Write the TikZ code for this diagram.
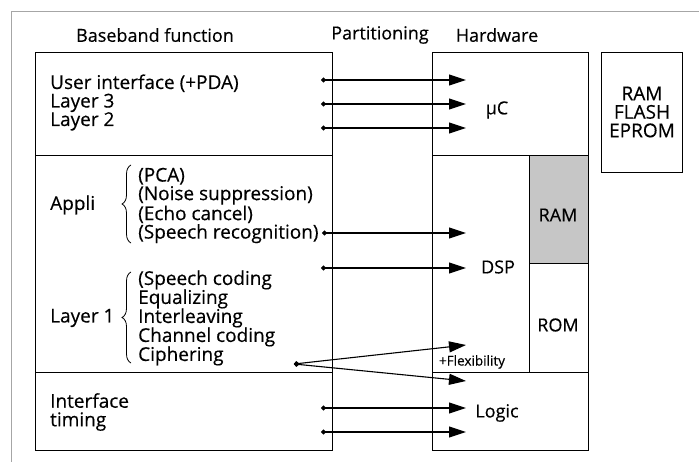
\documentclass[tikz,border=0pt]{standalone}
\usepackage{fontspec}
\setmainfont{Open Sans}[FakeBold=0.4]
\usetikzlibrary{arrows.meta,positioning,decorations.pathreplacing}

\begin{document}
\begin{tikzpicture}[
    x=1pt, y=-1pt,
    box/.style={rectangle, draw, line width=1.1pt, inner sep=0pt, anchor=north west},
    txt/.style={font=\fontsize{19}{18.5}\selectfont, inner sep=0pt, align=left},
    head/.style={font=\fontsize{18}{18.5}\selectfont, inner sep=0pt},
    small/.style={font=\fontsize{13.5}{14}\selectfont, inner sep=0pt},
    arrow/.style={{Circle[length=5pt]}-{Triangle[length=17pt,width=11pt]}, line width=1.1pt},
    brc/.style={decorate, decoration={brace, amplitude=9pt}, line width=0.8pt}
]
\useasboundingbox (0,0) rectangle (699,462);

% Frame
\draw[gray!70, line width=0.8pt] (699,11) -- (11,11) -- (11,462);

% Headings
\node[head] (hbase) at (155,35) {Baseband function};
\node[head] (hpart) at (380,35) {Partitioning};
\node[head] (hhard) at (497,35) {Hardware};

% Baseband function column
\node[box, minimum width=297pt, minimum height=103pt] (upper) at (35,52) {};
\node[box, minimum width=297pt, minimum height=217pt] (mid) at (35,155) {};
\node[box, minimum width=297pt, minimum height=78pt] (low) at (35,372) {};

% Hardware column
\node[box, minimum width=156pt, minimum height=103pt] (uc) at (432,52) {};
\node[box, minimum width=97pt, minimum height=217pt] (dsp) at (432,155) {};
\node[box, minimum width=59pt, minimum height=108pt, fill=gray!45] (ram) at (529,155) {};
\node[box, minimum width=59pt, minimum height=109pt] (rom) at (529,263) {};
\node[box, minimum width=156pt, minimum height=78pt] (logic) at (432,372) {};
\node[box, minimum width=81pt, minimum height=120pt] (mem) at (601,52) {};

% Function texts
\node[txt, anchor=west] (ui) at (50,102.5) {User interface (+PDA)\\Layer 3\\Layer 2};
\node[txt, anchor=west] (appli) at (50,205) {Appli};
\node[txt, anchor=west] (applist) at (138,205.5) {(PCA)\\(Noise suppression)\\(Echo cancel)\\(Speech recognition)};
\node[txt, anchor=west] (layer1) at (50,318) {Layer 1};
\node[txt, anchor=west, font=\fontsize{19}{19}\selectfont] (l1list) at (138,318) {(Speech coding\\Equalizing\\Interleaving\\Channel coding\\Ciphering};
\node[txt, anchor=west] (iface) at (50,412) {Interface\\timing};
\draw[brc] (131,243) -- (131,165);
\draw[brc] (131,363) -- (131,272);

% Hardware texts
\node[head] (uclabel) at (497,110) {µC};
\node[head] (dsplabel) at (498,267) {DSP};
\node[head] (ramlabel) at (558,215) {RAM};
\node[head] (romlabel) at (558,325) {ROM};
\node[head] (logiclabel) at (497,413) {Logic};
\node[small] (flex) at (472,362) {+Flexibility};
\node[txt, align=center] (memlabel) at (642,112) {RAM\\FLASH\\EPROM};

% Connector ends
\coordinate (s1) at (321,80);   \coordinate (t1) at (466,80);
\coordinate (s2) at (321,104);  \coordinate (t2) at (466,104);
\coordinate (s3) at (321,128);  \coordinate (t3) at (466,128);
\coordinate (s4) at (322,233);  \coordinate (t4) at (466,233);
\coordinate (s5) at (321,268);  \coordinate (t5) at (466,268);
\coordinate (s6) at (294,364);  \coordinate (t6) at (466,345);
\coordinate (t7) at (466,381);
\coordinate (s8) at (321,408);  \coordinate (t8) at (466,408);
\coordinate (s9) at (321,432);  \coordinate (t9) at (466,432);

% Arrows
\draw[arrow] (s1) -- (t1);
\draw[arrow] (s2) -- (t2);
\draw[arrow] (s3) -- (t3);
\draw[arrow] (s4) -- (t4);
\draw[arrow] (s5) -- (t5);
\draw[arrow] (s6) -- (t6);
\draw[arrow] (s6) -- (t7);
\draw[arrow] (s8) -- (t8);
\draw[arrow] (s9) -- (t9);

\end{tikzpicture}
\end{document}
